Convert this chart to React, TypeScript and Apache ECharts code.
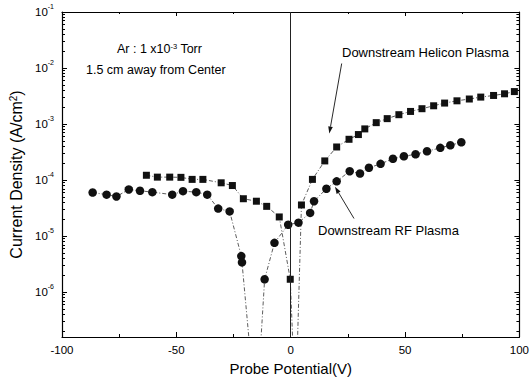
import React, { useEffect, useRef } from "react";
import * as echarts from "echarts";

// Probe potential (V) and current density (A/cm^2)
const potentialHelicon = [-63.1, -58.3, -52.9, -48.0, -43.1, -38.4, -30.4, -25.5, -20.7, -15.0, -10.5, -5.0, -0.2, 2.1, 4.7, 9.5, 14.9, 20.1, 25.5, 29.6, 32.4, 37.4, 42.2, 47.3, 52.4, 57.4, 62.5, 67.3, 72.7, 78.1, 83.1, 88.7, 93.5, 97.8];
const currentHelicon = [1.22e-4, 1.13e-4, 1.13e-4, 1.12e-4, 1.03e-4, 1.03e-4, 8.95e-5, 8.0e-5, 4.65e-5, 4.2e-5, 3.4e-5, 2.2e-5, 1.7e-6, 8e-9, 3.6e-5, 1.03e-4, 2.2e-4, 3.9e-4, 5.35e-4, 6.5e-4, 8.2e-4, 1.06e-3, 1.25e-3, 1.47e-3, 1.68e-3, 1.88e-3, 2.12e-3, 2.37e-3, 2.6e-3, 2.8e-3, 3.03e-3, 3.24e-3, 3.47e-3, 3.8e-3];

const potentialRF = [-86.6, -80.5, -76.2, -70.8, -65.9, -60.5, -51.8, -47.1, -41.3, -36.5, -31.7, -26.7, -21.6, -21.3, -15.1, -11.4, -7.1, -1.1, 3.4, 8.5, 10.2, 15.6, 20.1, 25.8, 30.3, 34.2, 39.3, 44.7, 49.5, 54.6, 59.6, 65.4, 69.8, 74.6];
const currentRF = [6.0e-5, 5.5e-5, 5.1e-5, 6.8e-5, 6.45e-5, 6.1e-5, 5.5e-5, 6.35e-5, 6.1e-5, 5.5e-5, 3.1e-5, 2.76e-5, 4.4e-6, 3.4e-6, 5.8e-9, 1.7e-6, 7.6e-6, 1.6e-5, 1.74e-5, 2.6e-5, 4.2e-5, 7.0e-5, 9.5e-5, 1.44e-4, 1.31e-4, 1.66e-4, 1.95e-4, 2.4e-4, 2.66e-4, 2.89e-4, 3.27e-4, 3.76e-4, 4.18e-4, 4.73e-4];

const yDecades = [-6, -5, -4, -3, -2, -1]; // exponents of 10 labelled on the y axis
const yMinExp = -6.8;
const yMaxExp = -1;

const FONT = "Liberation Sans, Arial, sans-serif";
const INK = "#000";

function minorLogTicks(): number[] {
  const out: number[] = [];
  for (let n = -7; n <= -2; n++) {
    for (let k = 2; k <= 9; k++) {
      const v = n + Math.log10(k);
      if (v > yMinExp && v < yMaxExp) out.push(v);
    }
  }
  return out;
}

function arrow(x1: number, y1: number, x2: number, y2: number): any[] {
  const ang = Math.atan2(y2 - y1, x2 - x1);
  const L = 7;
  const W = 2.3;
  const bx = x2 - L * Math.cos(ang);
  const by = y2 - L * Math.sin(ang);
  const px = -Math.sin(ang) * W;
  const py = Math.cos(ang) * W;
  return [
    { type: "line", shape: { x1, y1, x2: bx, y2: by }, style: { stroke: "#111", lineWidth: 0.9 } },
    {
      type: "polygon",
      shape: { points: [[x2, y2], [bx + px, by + py], [bx - px, by - py]] },
      style: { fill: "#111" },
    },
  ];
}

export default function App() {
  const ref = useRef<HTMLDivElement>(null);
  useEffect(() => {
    if (!ref.current) return;
    const chart = echarts.init(ref.current, null, { renderer: "svg" });
    const toPts = (xs: number[], ys: number[]) => xs.map((x, i) => [x, Math.log10(ys[i])]);
    const minor = minorLogTicks();
    const baseY = {
      type: "value",
      min: yMinExp,
      max: yMaxExp,
      splitLine: { show: false },
    };
    const lineSt = { color: "#333", width: 0.8, type: [4, 2, 1, 2] };
    const option: any = {
      animation: false,
      backgroundColor: "#fff",
      grid: { left: 62, right: 11, top: 12, bottom: 45, containLabel: false },
      xAxis: [
        {
          type: "value",
          min: -100,
          max: 100,
          interval: 50,
          position: "bottom",
          axisLine: { show: true, onZero: false, lineStyle: { color: INK, width: 1.2 } },
          axisTick: { show: true, inside: true, length: 5, lineStyle: { color: INK } },
          minorTick: { show: true, splitNumber: 2, length: 3, lineStyle: { color: INK } },
          splitLine: { show: false },
          axisLabel: { color: INK, fontSize: 11.5, fontFamily: FONT, margin: 7 },
          name: "Probe Potential(V)",
          nameLocation: "middle",
          nameGap: 22,
          nameTextStyle: { color: INK, fontSize: 15, fontFamily: FONT },
        },
        {
          type: "value",
          min: -100,
          max: 100,
          interval: 50,
          position: "top",
          axisLine: { show: true, onZero: false, lineStyle: { color: INK, width: 1.2 } },
          axisTick: { show: true, inside: true, length: 4, lineStyle: { color: INK } },
          minorTick: { show: true, splitNumber: 2, length: 2, lineStyle: { color: INK } },
          splitLine: { show: false },
          axisLabel: { show: false },
        },
      ],
      yAxis: [
        {
          ...baseY,
          position: "left",
          axisLine: { show: true, onZero: false, lineStyle: { color: INK, width: 1.2 } },
          axisTick: { show: true, inside: true, length: 5, customValues: yDecades, lineStyle: { color: INK } },
          axisLabel: {
            customValues: yDecades,
            margin: 8,
            formatter: (v: number) => `{b|10}{s|${Math.round(v)}}`,
            rich: {
              b: { fontSize: 11.5, fontFamily: FONT, color: INK, lineHeight: 18 },
              s: { fontSize: 7, fontFamily: FONT, color: INK, verticalAlign: "top", lineHeight: 8 },
            },
          },
          name: "Current Density (A/cm{s|2})",
          nameLocation: "middle",
          nameGap: 37,
          nameTextStyle: {
            color: INK,
            fontSize: 16,
            fontFamily: FONT,
            rich: { s: { fontSize: 10, fontFamily: FONT, color: INK, verticalAlign: "top", lineHeight: 10 } },
          },
        },
        {
          ...baseY,
          position: "left",
          axisLine: { show: false, onZero: false },
          axisTick: { show: true, inside: true, length: 3, customValues: minor, lineStyle: { color: INK, width: 1 } },
          axisLabel: { show: false },
        },
        {
          ...baseY,
          position: "right",
          axisLine: { show: true, onZero: false, lineStyle: { color: INK, width: 1.2 } },
          axisTick: { show: true, inside: true, length: 5, customValues: yDecades, lineStyle: { color: INK } },
          axisLabel: { show: false },
        },
        {
          ...baseY,
          position: "right",
          axisLine: { show: false, onZero: false },
          axisTick: { show: true, inside: true, length: 3, customValues: minor, lineStyle: { color: INK, width: 1 } },
          axisLabel: { show: false },
        },
      ],
      series: [
        {
          name: "Downstream Helicon Plasma",
          type: "line",
          data: toPts(potentialHelicon, currentHelicon),
          symbol: "rect",
          symbolSize: 7,
          itemStyle: { color: "#111" },
          lineStyle: lineSt,
          clip: true,
          markLine: {
            silent: true,
            symbol: ["none", "none"],
            label: { show: false },
            lineStyle: { color: "#222", width: 1, type: "solid" },
            data: [{ xAxis: 0 }],
          },
        },
        {
          name: "Downstream RF Plasma",
          type: "line",
          data: toPts(potentialRF, currentRF),
          symbol: "circle",
          symbolSize: 8.5,
          itemStyle: { color: "#111" },
          lineStyle: lineSt,
          clip: true,
        },
      ],
      graphic: [
        {
          type: "text",
          left: 117,
          top: 42,
          style: {
            text: "Ar : 1 x10{s|-3} Torr",
            font: `12.5px ${FONT}`,
            fill: INK,
            rich: {
              s: { fontSize: 7.5, fontFamily: FONT, fill: INK, verticalAlign: "top", lineHeight: 8 },
            },
          },
        },
        {
          type: "text",
          left: 86,
          top: 63,
          style: { text: "1.5 cm away from Center", font: `12.5px ${FONT}`, fill: INK },
        },
        {
          type: "text",
          left: 342,
          top: 46,
          style: { text: "Downstream Helicon Plasma", font: `13px ${FONT}`, fill: INK },
        },
        {
          type: "text",
          left: 318,
          top: 224,
          style: { text: "Downstream RF Plasma", font: `13px ${FONT}`, fill: INK },
        },
        ...arrow(341.7, 63.5, 329.3, 133.5),
        ...arrow(354, 218.5, 335, 186.7),
      ],
    };
    chart.setOption(option);
    return () => chart.dispose();
  }, []);
  return (
    <div style={{ position: "absolute", left: 0, top: 0, width: 532, height: 382 }}>
      <div ref={ref} style={{ width: 532, height: 382 }} />
    </div>
  );
}
